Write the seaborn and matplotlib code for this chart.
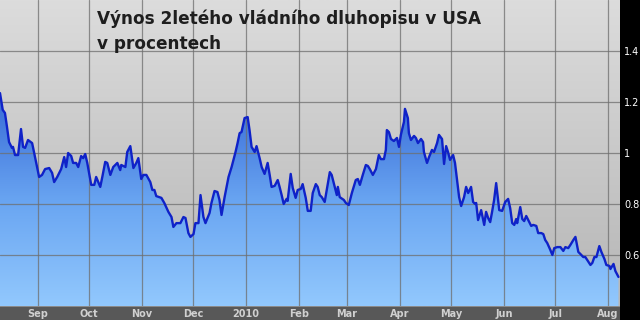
import numpy as np
import pandas as pd
import matplotlib
matplotlib.use("Agg")
import matplotlib.pyplot as plt
import matplotlib.dates as mdates
from matplotlib.colors import LinearSegmentedColormap
from matplotlib.patches import Rectangle, Polygon
import seaborn as sns

# ---- data -------------------------------------------------------------
start_date = "2009-08-10"
end_date = "2010-08-08"
day_offset = [0.0, 1.6, 2.9, 4.1, 5.3, 7.0, 7.6, 8.8, 10.6, 12.3, 13.5, 14.7, 16.4, 18.8, 19.4,
              21.7, 22.9, 24.6, 26.4, 28.8, 30.5, 31.7, 33.5, 35.8, 37.6, 38.7, 39.9, 41.7, 42.8,
              44.6, 45.8, 47.5, 48.7, 49.9, 51.1, 53.4, 55.2, 56.3, 58.7, 59.9, 61.6, 62.8, 64.6,
              66.3, 68.7, 70.4, 71.0, 73.4, 74.5, 76.3, 78.1, 79.8, 81.0, 82.7, 83.9, 85.7, 88.0,
              89.2, 90.4, 91.5, 94.5, 96.2, 98.6, 100.4, 101.5, 103.3, 105.6, 107.4, 108.6, 110.3,
              111.5, 113.3, 114.4, 116.2, 117.4, 119.1, 120.3, 122.7, 123.8, 125.6, 127.3, 128.5,
              129.7, 131.5, 133.8, 135.6, 136.7, 137.9, 139.1, 140.3, 141.4, 143.2, 145.0, 146.1,
              147.3, 149.1, 150.2, 152.0, 153.2, 154.9, 156.7, 157.9, 159.0, 160.8, 162.6, 163.7,
              164.9, 166.1, 167.8, 168.4, 170.2, 171.4, 173.1, 174.3, 176.1, 177.2, 179.0, 180.2,
              181.9, 183.1, 184.9, 186.0, 187.2, 188.4, 190.1, 191.3, 193.1, 194.2, 196.0, 197.2,
              197.8, 198.9, 201.3, 202.5, 204.2, 206.0, 208.3, 209.5, 210.7, 212.4, 214.2, 215.4,
              216.5, 218.3, 220.1, 221.8, 223.0, 224.8, 225.9, 226.5, 227.7, 228.9, 230.6, 232.4,
              233.6, 234.7, 236.5, 237.1, 238.8, 239.4, 240.6, 242.4, 243.5, 244.7, 246.5, 247.7,
              248.2, 250.0, 251.2, 252.9, 254.1, 255.9, 257.0, 258.8, 260.0, 261.2, 262.3, 263.5,
              265.3, 266.4, 267.6, 268.8, 270.0, 271.7, 272.9, 274.1, 275.8, 277.0, 278.2, 278.8,
              279.9, 281.7, 283.5, 284.6, 285.8, 287.0, 288.1, 289.3, 290.5, 292.3, 294.0, 295.8,
              297.5, 298.7, 299.9, 301.1, 302.2, 302.8, 304.6, 305.8, 306.9, 308.1, 309.3, 311.0,
              312.2, 314.0, 315.1, 316.9, 318.1, 319.2, 320.4, 322.2, 323.4, 324.5, 326.3, 328.1,
              329.8, 331.0, 332.7, 333.9, 335.7, 336.9, 338.6, 339.8, 341.5, 342.7, 344.5, 345.7,
              346.8, 348.0, 349.2, 350.9, 352.1, 353.9, 355.0, 356.8, 357.4, 359.2, 360.3, 362.1]
yield_pct = [1.235, 1.169, 1.157, 1.102, 1.043, 1.020, 1.024, 0.992, 0.992, 1.094, 1.024, 1.020,
             1.051, 1.039, 1.020, 0.945, 0.906, 0.914, 0.937, 0.941, 0.922, 0.886, 0.906, 0.937,
             0.984, 0.945, 1.000, 0.988, 0.961, 0.961, 0.945, 0.988, 0.980, 0.996, 0.961, 0.875,
             0.875, 0.906, 0.867, 0.906, 0.965, 0.961, 0.914, 0.945, 0.961, 0.933, 0.953, 0.945,
             1.004, 1.027, 0.941, 0.961, 0.980, 0.898, 0.914, 0.914, 0.886, 0.855, 0.855, 0.831,
             0.824, 0.804, 0.769, 0.749, 0.710, 0.725, 0.725, 0.749, 0.745, 0.686, 0.671, 0.682,
             0.725, 0.725, 0.835, 0.749, 0.725, 0.765, 0.804, 0.851, 0.847, 0.816, 0.757, 0.827,
             0.906, 0.945, 0.973, 1.004, 1.039, 1.078, 1.082, 1.137, 1.141, 1.090, 1.024, 1.004,
             1.027, 0.980, 0.945, 0.918, 0.961, 0.914, 0.867, 0.871, 0.894, 0.867, 0.835, 0.800,
             0.820, 0.812, 0.918, 0.863, 0.824, 0.855, 0.859, 0.878, 0.824, 0.773, 0.773, 0.843,
             0.878, 0.867, 0.835, 0.827, 0.808, 0.855, 0.925, 0.914, 0.867, 0.835, 0.867, 0.827,
             0.816, 0.804, 0.796, 0.843, 0.894, 0.898, 0.875, 0.914, 0.953, 0.949, 0.937, 0.914,
             0.937, 0.992, 0.976, 0.976, 1.012, 1.090, 1.082, 1.055, 1.047, 1.059, 1.024, 1.071,
             1.122, 1.173, 1.137, 1.078, 1.051, 1.067, 1.059, 1.039, 1.055, 1.043, 1.004, 0.961,
             0.984, 1.012, 1.004, 1.039, 1.071, 1.055, 0.957, 1.027, 1.004, 0.973, 0.992, 0.961,
             0.894, 0.827, 0.792, 0.827, 0.867, 0.843, 0.867, 0.808, 0.800, 0.804, 0.737, 0.776,
             0.718, 0.769, 0.745, 0.729, 0.769, 0.816, 0.882, 0.776, 0.773, 0.808, 0.820, 0.784,
             0.725, 0.718, 0.741, 0.725, 0.788, 0.741, 0.733, 0.753, 0.737, 0.714, 0.718, 0.714,
             0.686, 0.686, 0.682, 0.659, 0.647, 0.620, 0.600, 0.627, 0.631, 0.631, 0.616, 0.631,
             0.627, 0.639, 0.659, 0.671, 0.612, 0.604, 0.592, 0.592, 0.573, 0.561, 0.569, 0.592,
             0.592, 0.635, 0.612, 0.584, 0.561, 0.557, 0.545, 0.565, 0.537, 0.514]
month_ticks = ["2009-09-01", "2009-10-01", "2009-11-01", "2009-12-01", "2010-01-01", "2010-02-01",
               "2010-03-01", "2010-04-01", "2010-05-01", "2010-06-01", "2010-07-01", "2010-08-01"]
month_labels = ["Sep", "Oct", "Nov", "Dec", "2010", "Feb", "Mar", "Apr", "May", "Jun", "Jul", "Aug"]
y_ticks = [0.6, 0.8, 1.0, 1.2, 1.4]
y_tick_labels = ["0.6", "0.8", "1", "1.2", "1.4"]
y_limits = (0.4, 1.6)
title = "Výnos 2letého vládního dluhopisu v USA\nv procentech"

# ---- figure -----------------------------------------------------------
sns.set_theme(style="white")
plt.rcParams["font.family"] = ["DejaVu Sans"]

t0 = pd.Timestamp(start_date)
df = pd.DataFrame({"date": t0 + pd.to_timedelta(day_offset, unit="D"), "yield": yield_pct})

W, H = 640, 320
fig = plt.figure(figsize=(W / 100, H / 100), dpi=100)
fig.patch.set_facecolor("black")

# bottom strip (drawn below the axes so tick labels stay visible)
fig.patches.append(Rectangle((0, 0), 620 / W, 14 / H, transform=fig.transFigure,
                             facecolor="#585858", edgecolor="none", zorder=-2))
fig.patches.append(Rectangle((0, 13 / H), 620 / W, 1 / H, transform=fig.transFigure,
                             facecolor="#8a8a8a", edgecolor="none", zorder=-1))

ax = fig.add_axes([0, 14 / H, 620 / W, 306 / H])
x0 = mdates.date2num(t0)
x1 = mdates.date2num(pd.Timestamp(end_date))
ylo, yhi = y_limits

# background gradient
bg_cmap = LinearSegmentedColormap.from_list("bg", ["#b6b6b6", "#dcdcdc"])
grad = np.linspace(0, 1, 256).reshape(-1, 1)
ax.imshow(grad, extent=[x0, x1, ylo, yhi], origin="lower", aspect="auto",
          cmap=bg_cmap, zorder=0)

# gradient fill under the curve
fill_cmap = LinearSegmentedColormap.from_list("fill", ["#92c8fd", "#6aa6f2", "#3b6ed8", "#2a58c8"])
im = ax.imshow(grad, extent=[x0, x1, ylo, yhi], origin="lower", aspect="auto",
               cmap=fill_cmap, zorder=1)
xs = mdates.date2num(df["date"])
verts = [(xs[0], ylo)] + list(zip(xs, df["yield"])) + [(xs[-1], ylo)]
poly = Polygon(verts, closed=True, facecolor="none", edgecolor="none", transform=ax.transData)
ax.add_patch(poly)
im.set_clip_path(poly)

sns.lineplot(data=df, x="date", y="yield", ax=ax, color="#0f22c8", linewidth=1.7, zorder=3)

ax.set_xlim(x0, x1)
ax.set_ylim(ylo, yhi)
ax.set_xticks(mdates.date2num(pd.to_datetime(month_ticks)))
ax.set_xticklabels(month_labels)
ax.set_yticks(y_ticks)
ax.set_yticklabels(y_tick_labels)
ax.yaxis.tick_right()
ax.set_xlabel("")
ax.set_ylabel("")
ax.set_axisbelow(False)
ax.grid(True, color="#6e6e6e", linewidth=0.9, alpha=0.75, zorder=2)
for s in ax.spines.values():
    s.set_visible(False)
ax.tick_params(axis="x", length=0, pad=2.0, labelsize=7, labelcolor="#d0d0d0")
ax.tick_params(axis="y", length=0, pad=3, labelsize=7, labelcolor="white")
for lab in ax.get_xticklabels():
    lab.set_fontweight("bold")

fig.text(97 / W, 1 - 10 / H, title, ha="left", va="top", fontsize=12.2, fontweight="bold",
         color="#1e1e1e", linespacing=1.45)

fig.savefig("out.png", dpi=100, facecolor=fig.get_facecolor())
